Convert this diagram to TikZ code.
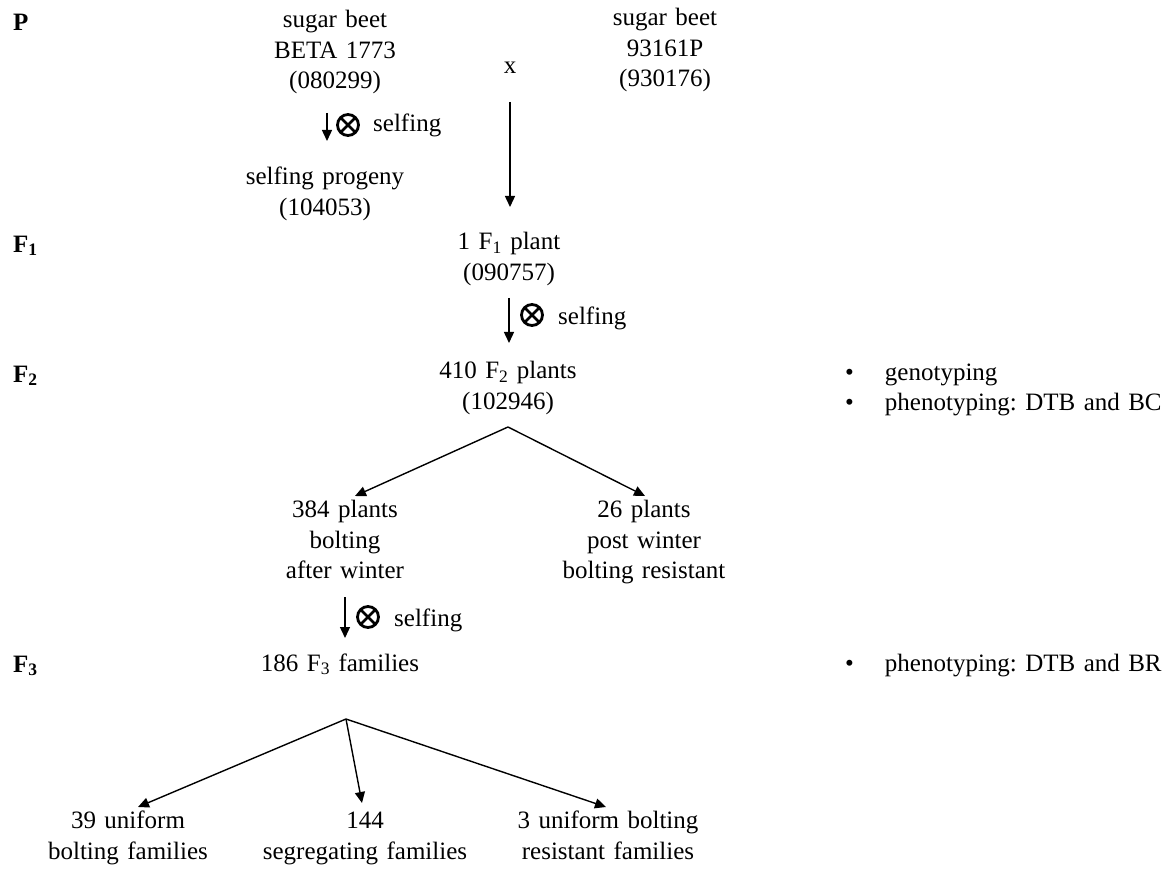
\documentclass[tikz,border=0pt]{standalone}
\usepackage{fontspec}
\setmainfont{Liberation Serif}[WordSpace=1.35]
\usetikzlibrary{arrows.meta}
\begin{document}
\begin{tikzpicture}[x=1pt,y=-1pt,
  txt/.style={align=center,font=\fontsize{25}{30.5}\selectfont,inner sep=0pt},
  lbl/.style={font=\fontsize{25}{30.5}\selectfont\bfseries,inner sep=0pt,anchor=west},
  bul/.style={font=\fontsize{25}{30.5}\selectfont,inner sep=0pt,anchor=west},
  arr/.style={line width=1.4pt,-{Triangle[length=11pt,width=10pt]}},
  selfsym/.style={circle,draw,line width=2.8pt,minimum size=21pt,inner sep=0pt,
    path picture={\draw[line width=2.6pt] (path picture bounding box.south west)--(path picture bounding box.north east)
      (path picture bounding box.north west)--(path picture bounding box.south east);}}]
\useasboundingbox (0,0) rectangle (1176,877);
% generation labels
\node[lbl] (P) at (13,24) {\strut P};
\node[lbl] (F1) at (13,246) {\strut F\textsubscript{1}};
\node[lbl] (F2) at (13,376) {\strut F\textsubscript{2}};
\node[lbl] (F3) at (13,666) {\strut F\textsubscript{3}};
% parents
\node[txt] (p1) at (335,52) {\strut sugar beet\\\strut BETA 1773\\\strut (080299)};
\node[txt] (p2) at (665,50) {\strut sugar beet\\\strut 93161P\\\strut (930176)};
\node[txt] (x) at (510,67) {\strut x};
\node[txt] (sp) at (325,194) {\strut selfing progeny\\\strut (104053)};
\node[txt] (f1) at (509,259) {\strut 1 F\textsubscript{1} plant\\\strut (090757)};
\node[txt] (f2) at (508,388) {\strut 410 F\textsubscript{2} plants\\\strut (102946)};
\node[txt] (b1) at (345,542) {\strut 384 plants\\\strut bolting\\\strut after winter};
\node[txt] (b2) at (644,542) {\strut 26 plants\\\strut post winter\\\strut bolting resistant};
\node[txt] (f3) at (340,665) {\strut 186 F\textsubscript{3} families};
\node[txt] (c1) at (128,838) {\strut 39 uniform\\\strut bolting families};
\node[txt] (c2) at (365,838) {\strut 144\\\strut segregating families};
\node[txt] (c3) at (608,838) {\strut 3 uniform bolting\\\strut resistant families};
% bullets
\node[bul] (g1) at (845,374) {\strut\textbullet\hspace{31pt}genotyping};
\node[bul] (g2) at (845,404) {\strut\textbullet\hspace{31pt}phenotyping:\ DTB and BC};
\node[bul] (g3) at (845,665) {\strut\textbullet\hspace{31pt}phenotyping:\ DTB and BR};
% selfing arrows
\coordinate (s1a) at (327,113); \coordinate (s1b) at (327,141);
\draw[arr] (s1a) -- (s1b);
\node[selfsym] (o1) at (348,125) {};
\node[txt,anchor=west] (t1) at (373,125) {\strut selfing};
\coordinate (s2a) at (509,298); \coordinate (s2b) at (509,343);
\draw[arr] (s2a) -- (s2b);
\node[selfsym] (o2) at (532,315) {};
\node[txt,anchor=west] (t2) at (558,318) {\strut selfing};
\coordinate (s3a) at (345,597); \coordinate (s3b) at (345,638);
\draw[arr] (s3a) -- (s3b);
\node[selfsym] (o3) at (368,617) {};
\node[txt,anchor=west] (t3) at (394,620) {\strut selfing};
% cross arrow
\coordinate (xa) at (510,102); \coordinate (xb) at (510,207);
\draw[arr] (xa) -- (xb);
% branches
\coordinate (ap2) at (508,427);
\coordinate (e1) at (355,496); \coordinate (e2) at (645,496);
\draw[arr] (ap2) -- (e1);
\draw[arr] (ap2) -- (e2);
\coordinate (ap3) at (346,719);
\coordinate (d1) at (138,807); \coordinate (d2) at (362,803); \coordinate (d3) at (606,807);
\draw[arr] (ap3) -- (d1);
\draw[arr] (ap3) -- (d2);
\draw[arr] (ap3) -- (d3);
\end{tikzpicture}
\end{document}
